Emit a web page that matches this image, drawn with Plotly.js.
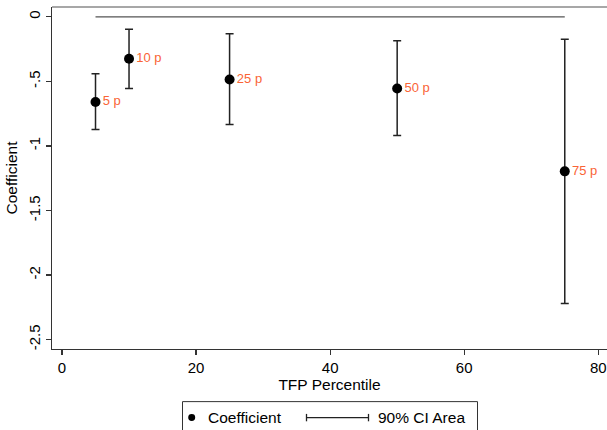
<!DOCTYPE html>
<html>
<head>
<meta charset="utf-8">
<script src="https://cdn.plot.ly/plotly-3.0.1.min.js"></script>
<style>
html,body{margin:0;padding:0;background:#fff;}
#chart{width:607px;height:430px;}
</style>
</head>
<body>
<div id="chart"></div>
<script>
// Data
var percentiles = [5, 10, 25, 50, 75];
var coefficients = [-0.660, -0.325, -0.485, -0.555, -1.197];
var ciUpper = [-0.441, -0.096, -0.131, -0.186, -0.173];
var ciLower = [-0.872, -0.555, -0.835, -0.920, -2.220];
var pointLabels = ["5 p", "10 p", "25 p", "50 p", "75 p"];
var refLineX = [5, 75];
var refLineY = [0, 0];
var xTicks = [0, 20, 40, 60, 80];
var yTicks = [0, -0.5, -1, -1.5, -2, -2.5];
var yTickText = ["0", "-.5", "-1", "-1.5", "-2", "-2.5"];

var FONT = "Liberation Sans, Arial, sans-serif";

var errPlus = coefficients.map(function (c, i) { return ciUpper[i] - c; });
var errMinus = coefficients.map(function (c, i) { return c - ciLower[i]; });

var traces = [
  {
    x: refLineX, y: refLineY, type: "scatter", mode: "lines",
    line: {color: "#555555", width: 1.3}, hoverinfo: "skip", showlegend: false
  },
  {
    x: percentiles, y: coefficients, type: "scatter", mode: "markers+text",
    marker: {color: "#000000", size: 10},
    error_y: {type: "data", symmetric: false, array: errPlus, arrayminus: errMinus,
              color: "#222222", thickness: 1.5, width: 4},
    text: pointLabels,
    textposition: "middle right",
    textfont: {family: FONT, size: 13, color: "#fa6436"},
    cliponaxis: false, showlegend: false
  }
];

// paper-coordinate helpers for the hand-built legend
var PL = 52, PW = 555, PB = 349, PH = 342.5;
function px(x) { return (x - PL) / PW; }
function py(y) { return (PB - y) / PH; }

var layout = {
  width: 607, height: 430,
  margin: {l: 52, r: 0, t: 6.5, b: 81},
  paper_bgcolor: "#ffffff", plot_bgcolor: "#ffffff",
  font: {family: FONT, color: "#000000"},
  showlegend: false,
  xaxis: {
    range: [-1.49, 81.3], tickvals: xTicks, ticks: "outside", ticklen: 5,
    tickcolor: "#333333", tickwidth: 1.2,
    showline: true, linecolor: "#333333", linewidth: 1.4,
    showgrid: false, zeroline: false,
    tickfont: {family: FONT, size: 15, color: "#000000"},
    title: {text: "TFP Percentile", font: {family: FONT, size: 15.5, color: "#000000"}, standoff: 2},
    automargin: false
  },
  yaxis: {
    range: [-2.573, 0.076], tickvals: yTicks, ticktext: yTickText, ticks: "outside", ticklen: 5,
    tickcolor: "#333333", tickwidth: 1.2, tickangle: -90,
    showline: true, linecolor: "#333333", linewidth: 1.4,
    showgrid: false, zeroline: false,
    tickfont: {family: FONT, size: 15, color: "#000000"},
    title: {text: "Coefficient", font: {family: FONT, size: 15.5, color: "#000000"}, standoff: 4},
    automargin: false
  },
  shapes: [
    // top outline of plot region
    {type: "line", xref: "paper", yref: "paper", x0: 0, x1: 1.01, y0: 1, y1: 1,
     line: {color: "#8a8a8a", width: 1.5}},
    // legend box
    {type: "rect", xref: "paper", yref: "paper", x0: px(182.5), x1: px(477.5), y0: py(433), y1: py(401.7),
     line: {color: "#333333", width: 1}, fillcolor: "rgba(0,0,0,0)"},
    // legend marker
    {type: "circle", xref: "paper", yref: "paper", x0: px(188.2), x1: px(195.2), y0: py(421.2), y1: py(414.2),
     line: {color: "#000000", width: 0}, fillcolor: "#000000"},
    // legend CI line with caps
    {type: "line", xref: "paper", yref: "paper", x0: px(306.5), x1: px(368.5), y0: py(417.7), y1: py(417.7),
     line: {color: "#222222", width: 1.3}},
    {type: "line", xref: "paper", yref: "paper", x0: px(306.5), x1: px(306.5), y0: py(414), y1: py(421.4),
     line: {color: "#222222", width: 1.3}},
    {type: "line", xref: "paper", yref: "paper", x0: px(368.5), x1: px(368.5), y0: py(414), y1: py(421.4),
     line: {color: "#222222", width: 1.3}}
  ],
  annotations: [
    {xref: "paper", yref: "paper", x: px(206), y: py(417.7), xanchor: "left", yanchor: "middle",
     text: "Coefficient", showarrow: false, font: {family: FONT, size: 15.5, color: "#000000"}},
    {xref: "paper", yref: "paper", x: px(375.5), y: py(417.7), xanchor: "left", yanchor: "middle",
     text: "90% CI Area", showarrow: false, font: {family: FONT, size: 15.5, color: "#000000"}}
  ]
};

Plotly.newPlot("chart", traces, layout, {staticPlot: true, displayModeBar: false});
</script>
</body>
</html>
